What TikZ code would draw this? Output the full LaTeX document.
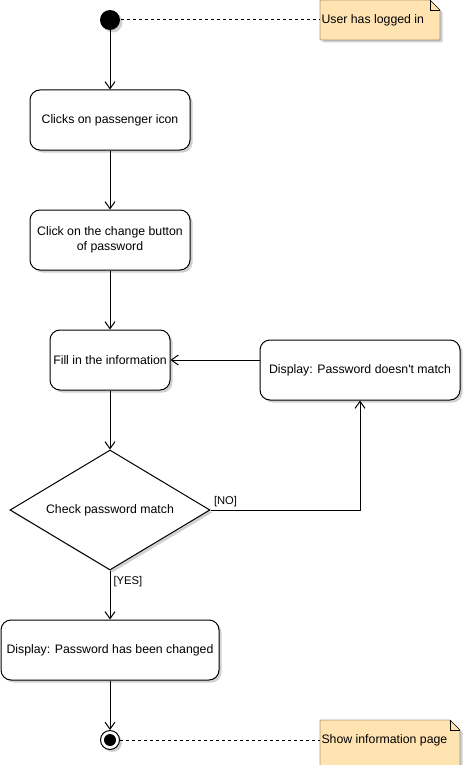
\documentclass[tikz,border=0pt]{standalone}
\usepackage{fontspec}
\setmainfont{Liberation Sans}
\usetikzlibrary{arrows.meta,positioning,calc,backgrounds,shapes.geometric,shadows}
\definecolor{notefill}{RGB}{255,228,178}

\begin{document}
\begin{tikzpicture}[x=1pt,y=-1pt,line width=1pt,font=\fontsize{12.3}{15}\selectfont,
  shade/.style={drop shadow={shadow xshift=2.5pt,shadow yshift=-2.5pt,fill=black,opacity=0.18}},
  act/.style={draw,rounded corners=10pt,fill=white,shade,align=center,inner sep=2pt},
  decide/.style={draw,diamond,aspect=1.67,fill=white,shade,minimum width=200pt,minimum height=120pt,inner sep=0pt},
  flow/.style={-{Straight Barb[length=7pt,width=10pt]}},
  notelink/.style={dash pattern=on 3pt off 3pt},
  notetext/.style={anchor=west,inner sep=1pt},
  notebox/.style={draw,fill=notefill,shade},
  lbl/.style={inner sep=1pt,font=\fontsize{11.2}{13}\selectfont}]
\useasboundingbox (0,0) rectangle (465,765);
\clip (0,0) rectangle (465,765);
\node[circle,fill=black,minimum size=20pt,inner sep=0pt,shade] (start) at (110,20) {};
\node[act,minimum width=160pt,minimum height=60pt] (b1) at (110,120) {Clicks on passenger icon};
\node[act,minimum width=160pt,minimum height=60pt] (b2) at (110,240) {Click on the change button\\of password};
\node[act,minimum width=120pt,minimum height=60pt] (b3) at (110,360) {Fill in the information};
\node[act,minimum width=200pt,minimum height=60pt] (b4) at (360,370) {Display: Password doesn\textquotesingle t match};
\node[decide] (d) at (110,510) {Check password match};
\node[act,minimum width=218pt,minimum height=60pt] (b5) at (110,650) {Display: Password has been changed};
\node[circle,draw,fill=white,minimum size=19pt,inner sep=0pt,shade] (stop) at (110,740) {};
\node[circle,fill=black,minimum size=12pt,inner sep=0pt] at (stop) {};
% notes
\coordinate (n1w) at (320,20);
\coordinate (n2w) at (320,740);
\node[notetext] (n1) at (n1w) {User has logged in};
\node[notetext] (n2) at (n2w) {Show information page};
\begin{scope}[on background layer]
\draw[notebox] (320,40) -- (320,0) -- (430,0) -- (440,10) -- (440,40) -- cycle;
\draw (430,0) -- (430,10) -- (440,10);
\draw[notebox] (320,770) -- (320,720) -- (450,720) -- (460,730) -- (460,770) -- cycle;
\draw (450,720) -- (450,730) -- (460,730);
\end{scope}
% flow
\draw[flow] (start) -- (b1);
\draw[flow] (b1) -- (b2);
\draw[flow] (b2) -- (b3);
\draw[flow] (b3) -- (d);
\draw[flow] (d.east) -| (b4.south);
\draw[flow] (b4.west |- b3) -- (b3);
\draw[flow] (d.south) -- (b5);
\draw[flow] (b5) -- (stop);
\node[lbl,anchor=south west] (no) at ([xshift=2pt,yshift=2pt]d.east) {[NO]};
\node[lbl,anchor=north west] (yes) at ([xshift=2pt,yshift=-4pt]d.south) {[YES]};
\draw[notelink] (start) -- (n1w);
\draw[notelink] (stop) -- (n2w);
\end{tikzpicture}
\end{document}
